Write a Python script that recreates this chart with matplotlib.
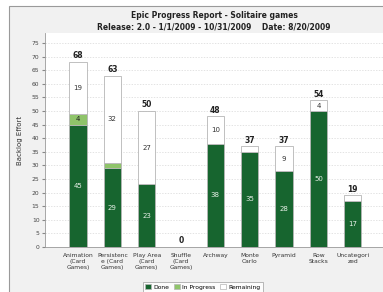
import numpy as np
import matplotlib
matplotlib.use("Agg")
import matplotlib.pyplot as plt
from matplotlib.patches import Rectangle, Patch

categories = ["Animation\n(Card\nGames)", "Persistenc\ne (Card\nGames)", "Play Area\n(Card\nGames)",
              "Shuffle\n(Card\nGames)", "Archway", "Monte\nCarlo", "Pyramid", "Row\nStacks",
              "Uncategori\nzed"]
done = [45, 29, 23, 0, 38, 35, 28, 50, 17]
in_progress = [4, 2, 0, 0, 0, 0, 0, 0, 0]
remaining = [19, 32, 27, 0, 10, 2, 9, 4, 2]

dark = "#17652f"
light = "#8fc46a"
edge = "#b5b5b5"

fig = plt.figure(figsize=(3.83, 2.92), dpi=100)
fig.patch.set_facecolor("white")
# grey panel with frame line at top/left
fig.patches.append(Rectangle((9/383, -0.1), 1.2, (292-6)/292 + 0.1, transform=fig.transFigure,
                             facecolor="#f1f1f1", edgecolor="#9a9a9a", linewidth=0.8, zorder=-10))

ax = fig.add_axes([45/383, 45/292, 338/383, (247-33)/292])
ax.set_zorder(1)
ax.set_facecolor("white")

x = np.arange(len(categories))
w = 0.5
d = np.array(done)
p = np.array(in_progress)
r = np.array(remaining)
ax.bar(x, d, w, color=dark, edgecolor=edge, linewidth=0.6, zorder=3)
ax.bar(x, p, w, bottom=d, color=light, edgecolor=edge, linewidth=0.6, zorder=3)
ax.bar(x, r, w, bottom=d + p, color="white", edgecolor=edge, linewidth=0.6, zorder=3)

fs = 5
for i in range(len(x)):
    if d[i] >= 4:
        ax.text(x[i], d[i] / 2, str(d[i]), ha="center", va="center", color="#e8f0e8", fontsize=fs, zorder=4)
    if p[i] >= 4:
        ax.text(x[i], d[i] + p[i] / 2, str(p[i]), ha="center", va="center", color="#222222", fontsize=fs, zorder=4)
    if r[i] >= 4:
        ax.text(x[i], d[i] + p[i] + r[i] / 2, str(r[i]), ha="center", va="center", color="#333333", fontsize=fs, zorder=4)
    tot = d[i] + p[i] + r[i]
    ax.text(x[i], tot + 0.6, str(tot), ha="center", va="bottom", color="#222222", fontsize=5.5,
            fontweight="bold", zorder=4)

ax.set_xlim(-0.96, 8.88)
ax.set_ylim(0, 78.7)
ax.set_yticks(range(0, 80, 5))
ax.set_xticks(x)
ax.set_xticklabels(categories, fontsize=4.3, color="#333333", linespacing=1.25)
ax.tick_params(axis="y", labelsize=4.3, labelcolor="#444444", length=2, color="#888888", pad=2)
ax.tick_params(axis="x", length=0, pad=4)
ax.grid(axis="y", color="#d8d8d8", linestyle=(0, (2, 2)), linewidth=0.5, zorder=0)
for s in ["top", "right"]:
    ax.spines[s].set_visible(False)
for s in ["left", "bottom"]:
    ax.spines[s].set_color("#999999")
    ax.spines[s].set_linewidth(0.6)
ax.set_ylabel("Backlog Effort", fontsize=5, color="#333333", labelpad=6)

fig.text(214/383, 1 - 15/292, "Epic Progress Report - Solitaire games", ha="center", va="center",
         fontsize=5.5, color="#222222", fontweight="semibold")
fig.text(214/383, 1 - 27/292, "Release: 2.0 - 1/1/2009 - 10/31/2009    Date: 8/20/2009", ha="center",
         va="center", fontsize=5.5, color="#222222", fontweight="semibold")

handles = [Patch(facecolor=dark, edgecolor=edge, linewidth=0.5, label="Done"),
           Patch(facecolor=light, edgecolor=edge, linewidth=0.5, label="In Progress"),
           Patch(facecolor="white", edgecolor=edge, linewidth=0.5, label="Remaining")]
leg = fig.legend(handles=handles, loc="center", bbox_to_anchor=(203/383, 1 - 287/292), ncol=3,
                 fontsize=4.3, frameon=True, handlelength=1, handleheight=1, handletextpad=0.4,
                 columnspacing=0.8, borderpad=0.3, fancybox=False)
leg.get_frame().set_edgecolor("#888888")
leg.get_frame().set_linewidth(0.5)

fig.savefig("out.png", dpi=100)
